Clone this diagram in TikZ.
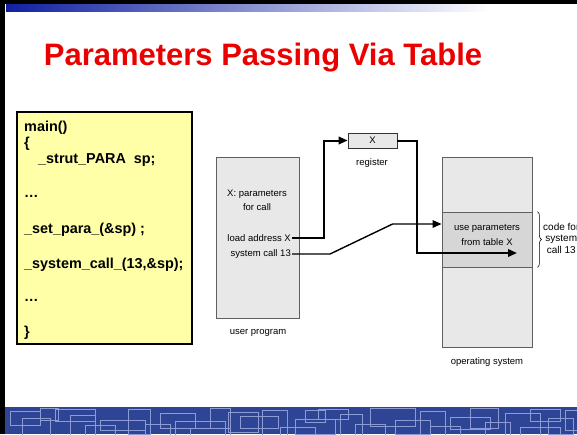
\documentclass[tikz,border=0pt]{standalone}
\usepackage{fontspec}
\setmainfont{Liberation Sans}
\setsansfont{Liberation Sans}
\usetikzlibrary{arrows.meta,decorations.pathreplacing,calc}

\definecolor{codeyellow}{RGB}{255,255,168}
\definecolor{blockgray}{RGB}{232,232,232}
\definecolor{midgray}{RGB}{214,214,214}
\definecolor{blockedge}{RGB}{95,95,95}
\definecolor{titlered}{RGB}{235,0,0}
\definecolor{bandblue}{RGB}{46,68,148}
\definecolor{bandline}{RGB}{140,155,212}
\definecolor{barblue}{RGB}{16,32,160}

\tikzset{
    codeline/.style={anchor=base west, inner sep=0, font=\fontsize{14.4}{17}\selectfont\bfseries},
    difont/.style={inner sep=1pt, font=\fontsize{9.5}{14}\selectfont},
    memblock/.style={draw=blockedge, fill=blockgray, line width=0.8pt, inner sep=0},
    flow/.style={line width=2pt, -{Triangle[length=9pt,width=7.5pt]}},
}

\begin{document}
\begin{tikzpicture}[x=1pt,y=-1pt]
    \useasboundingbox (0,0) rectangle (577,434);
    \clip (0,0) rectangle (577,434);
    \fill[white] (0,0) rectangle (577,434);

    % Slide frame and top bar
    \fill[black] (0,0) rectangle (577,4);
    \shade[left color=barblue, right color=white] (6,4) rectangle (490,11);

    % Bottom band
    \fill[bandblue] (5,407) rectangle (577,434);
    \begin{scope}
        \clip (5,407) rectangle (577,434);
        \foreach \x/\y/\w/\h in {10/411/30/14, 22/418/28/20, 55/409/40/12, 70/415/25/22,
            100/420/45/10, 128/409/22/25, 160/413/35/15, 175/421/50/14, 210/408/20/20,
            240/416/38/12, 262/410/25/25, 295/419/40/15, 318/409/30/10, 340/414/22/22,
            370/408/45/18, 395/420/35/14, 420/411/25/25, 450/417/40/12, 470/408/28/20,
            505/413/35/22, 530/409/30/12, 548/418/25/16, 565/410/20/20, 85/425/30/15,
            190/428/40/10, 280/427/35/12, 430/426/30/12, 520/427/40/10, 40/408/18/12,
            145/424/25/14, 228/412/30/20, 305/410/20/12, 355/424/30/12, 485/422/25/14}
            \draw[bandline, line width=1pt] (\x,\y) rectangle ++(\w,\h);
    \end{scope}
    \fill[black] (0,0) rectangle (5,434);

    % Title
    \node[anchor=base, font=\fontsize{31}{36}\selectfont\bfseries, text=titlered] (title) at (263,65) {Parameters Passing Via Table};

    % Code box
    \node[draw=black, line width=1.2pt, fill=codeyellow, minimum width=175pt, minimum height=232pt] (code) at (104.5,228) {};
    \foreach \x/\y/\t [count=\i] in {24/131/{main()}, 24/147/{\{}, 38/163/{\_strut\_PARA\ \ sp;},
        24/197/{…}, 24/233/{\_set\_para\_(\&sp) ;}, 24/268/{\_system\_call\_(13,\&sp);},
        24/301/{…}, 24/336/{\}}}
        \node[codeline] (c\i) at (\x,\y) {\t};

    % User program
    \node[memblock, minimum width=83pt, minimum height=161pt] (user) at (257.5,237.5) {};
    \node[difont, align=center] (xparm) at (257,200) {X: parameters\\for call};
    \node[difont, anchor=east] (ldx) at (292,238) {load address X};
    \node[difont, anchor=east] (sc) at (292,254) {system call 13};
    \node[difont] (ulbl) at (258,333) {user program};

    % Register
    \node[memblock, draw=black!80, minimum width=49pt, minimum height=15pt] (reg) at (372.5,140.5) {};
    \node[difont] at (reg) {X};
    \node[difont] (reglbl) at (372,163) {register};

    % Operating system
    \node[memblock, minimum width=90pt, minimum height=190pt] (os) at (487,252) {};
    \node[memblock, fill=midgray, minimum width=90pt, minimum height=55pt] (osmid) at (487,239.5) {};
    \node[difont, align=center, font=\fontsize{9.5}{15}\selectfont] (ostxt) at (487,234.5) {use parameters\\from table X};
    \node[difont] (oslbl) at (487,362) {operating system};

    % Brace
    \draw[decorate, decoration={brace, amplitude=4pt}, line width=0.6pt]
        ([xshift=5pt]osmid.north east) -- ([xshift=5pt]osmid.south east);
    \node[difont, align=center, anchor=west, inner sep=0, font=\fontsize{10}{11.5}\selectfont] (codefor) at (543,238) {code for\\system\\call 13};

    % Arrows
    \draw[flow] (ldx.east) -| ([xshift=-24pt]reg.west) -- (reg.west);
    \draw[flow] (reg.east) -- ([xshift=20pt]reg.east) |- ($(osmid.center)+(30,13.5)$);
    \draw[flow, line width=1.4pt] (sc.east) -- ++(38,0) -- ($(osmid.west)+(-49,-15.5)$) -- ($(osmid.west)+(0,-15.5)$);
\end{tikzpicture}
\end{document}
